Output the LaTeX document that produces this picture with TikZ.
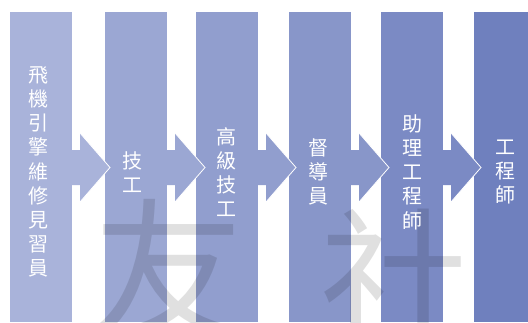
\documentclass[tikz,border=0pt]{standalone}
\usepackage{fontspec}
\newfontfamily\cjk{Noto Sans CJK TC}
\definecolor{bA}{RGB}{169,179,218}
\definecolor{bB}{RGB}{155,167,211}
\definecolor{bC}{RGB}{145,158,206}
\definecolor{bD}{RGB}{136,150,201}
\definecolor{bE}{RGB}{123,138,196}
\definecolor{bF}{RGB}{111,128,190}
\tikzset{
  lbl/.style={text=white, font=\cjk\fontsize{20}{24.2}\selectfont, align=center, inner sep=0pt},
  wm/.style={text=black, opacity=0.12, font=\cjk\fontsize{150}{150}\selectfont, inner sep=0pt}
}
\begin{document}
\begin{tikzpicture}[x=1pt,y=-1pt]
\useasboundingbox (0,0) rectangle (528,322);
\begin{scope}
\clip (0,0) rectangle (528,322);
% bars
\foreach \x/\c in {10/bA,105/bB,196/bC,289/bD,381/bE,474/bF}{
  \fill[\c] (\x,12) rectangle ++(62,310);
}
% arrows
\foreach \x/\c in {72/bA,167/bB,258/bC,351/bD,443/bE}{
  \fill[\c] (\x,150) -- (\x+8,150) -- (\x+8,133) -- (\x+38,167.5) -- (\x+8,202) -- (\x+8,185) -- (\x,185) -- cycle;
  \draw[white, line width=0.8pt, line join=miter] (\x+8,133) -- (\x+38,167.5) -- (\x+8,202);
}
% watermark
\node[wm] (w1) at (168,268) {友};
\node[wm] (w2) at (395,278) {社};
\end{scope}
% labels
\node[lbl] (t1) at (38,172) {飛\\機\\引\\擎\\維\\修\\見\\習\\員};
\node[lbl] (t2) at (132,172) {技\\工};
\node[lbl] (t3) at (226,172) {高\\級\\技\\工};
\node[lbl] (t4) at (318,172) {督\\導\\員};
\node[lbl] (t5) at (412,172) {助\\理\\工\\程\\師};
\node[lbl] (t6) at (505,172) {工\\程\\師};
\end{tikzpicture}
\end{document}
